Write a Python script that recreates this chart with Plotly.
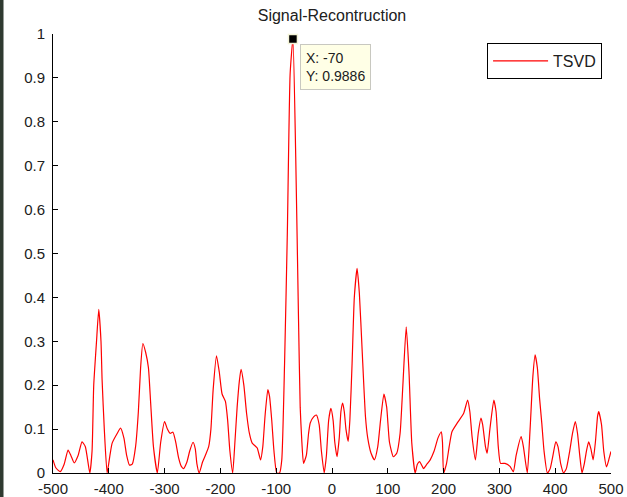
import plotly.graph_objects as go

# ---- data ----
x_vals = [-500, -495, -487, -480, -473, -468, -462, -455, -448, -442, -434, -430, -427, -422, -418,
          -414, -412, -408, -403, -398, -394, -385, -379, -373, -368, -363, -358, -352, -347, -343,
          -339, -334, -329, -325, -320, -313, -307, -300, -295, -290, -285, -280, -275, -270, -266,
          -260, -255, -249, -245, -242, -238, -232, -227, -221, -217, -213, -207, -202, -197, -191,
          -187, -183, -178, -174, -170, -166, -163, -158, -153, -148, -143, -138, -134, -128, -124,
          -120, -115, -112, -108, -104, -99, -94, -90, -85, -80, -75, -70, -65, -60, -57,
          -54, -51, -46, -42, -39, -33, -28, -23, -19, -14, -10, -6, -2, 2, 5,
          9, 13, 16, 19, 22, 25, 29, 32, 36, 40, 45, 49, 54, 60, 64,
          70, 76, 82, 87, 93, 98, 103, 110, 116, 122, 127, 133, 138, 143, 149,
          153, 157, 161, 164, 170, 176, 183, 190, 196, 198, 200, 205, 210, 215, 224,
          236, 243, 247, 251, 257, 262, 267, 270, 275, 278, 283, 290, 294, 298, 302,
          310, 319, 325, 330, 339, 343, 350, 355, 360, 364, 368, 372, 376, 380, 386,
          391, 396, 401, 405, 410, 415, 420, 426, 431, 436, 440, 444, 448, 452, 456,
          460, 464, 468, 472, 476, 478, 483, 487, 492, 496, 500]
y_vals = [0.030, 0.012, 0.003, 0.020, 0.052, 0.040, 0.023, 0.040, 0.071, 0.060, 0.000, 0.050, 0.200, 0.300, 0.373,
          0.300, 0.212, 0.098, 0.000, 0.040, 0.068, 0.090, 0.102, 0.080, 0.040, 0.018, 0.020, 0.060, 0.140, 0.240,
          0.295, 0.275, 0.240, 0.160, 0.060, 0.000, 0.070, 0.117, 0.100, 0.090, 0.093, 0.070, 0.035, 0.015, 0.010,
          0.025, 0.050, 0.070, 0.055, 0.020, 0.000, 0.025, 0.040, 0.060, 0.100, 0.190, 0.267, 0.230, 0.180, 0.163,
          0.120, 0.050, 0.000, 0.070, 0.150, 0.210, 0.236, 0.200, 0.135, 0.090, 0.068, 0.062, 0.057, 0.030, 0.060,
          0.130, 0.190, 0.175, 0.120, 0.050, 0.000, 0.000, 0.030, 0.250, 0.550, 0.910, 0.9886, 0.720, 0.350, 0.150,
          0.070, 0.022, 0.040, 0.090, 0.114, 0.128, 0.132, 0.110, 0.050, 0.000, 0.040, 0.120, 0.147, 0.120, 0.070,
          0.037, 0.080, 0.140, 0.159, 0.140, 0.100, 0.072, 0.120, 0.250, 0.400, 0.466, 0.410, 0.280, 0.128, 0.080,
          0.045, 0.030, 0.060, 0.120, 0.180, 0.150, 0.070, 0.037, 0.045, 0.090, 0.200, 0.333, 0.230, 0.068, 0.000,
          0.020, 0.026, 0.017, 0.010, 0.020, 0.030, 0.050, 0.080, 0.094, 0.070, 0.000, 0.020, 0.060, 0.094, 0.113,
          0.136, 0.166, 0.140, 0.083, 0.030, 0.090, 0.125, 0.110, 0.060, 0.045, 0.100, 0.166, 0.140, 0.060, 0.022,
          0.022, 0.015, 0.003, 0.040, 0.083, 0.060, 0.000, 0.100, 0.220, 0.269, 0.240, 0.170, 0.113, 0.050, 0.000,
          0.010, 0.040, 0.071, 0.060, 0.020, 0.000, 0.010, 0.050, 0.090, 0.117, 0.090, 0.040, 0.000, 0.020, 0.050,
          0.071, 0.055, 0.030, 0.070, 0.130, 0.140, 0.110, 0.050, 0.014, 0.030, 0.049]

x_ticks = [-500, -400, -300, -200, -100, 0, 100, 200, 300, 400, 500]
x_tick_labels = ["-500", "-400", "-300", "-200", "-100", "0", "100", "200", "300", "400", "500"]
y_ticks = [0, 0.1, 0.2, 0.3, 0.4, 0.5, 0.6, 0.7, 0.8, 0.9, 1]
y_tick_labels = ["0", "0.1", "0.2", "0.3", "0.4", "0.5", "0.6", "0.7", "0.8", "0.9", "1"]

tip_x = [-70]
tip_y = [0.9886]

FONT = "Liberation Sans, Arial, sans-serif"

fig = go.Figure()
fig.add_trace(go.Scatter(
    x=x_vals, y=y_vals, mode="lines", name="TSVD",
    line=dict(color="#ff0000", width=1.2, shape="spline", smoothing=0.5),
    cliponaxis=True,
))
fig.add_trace(go.Scatter(
    x=tip_x, y=tip_y, mode="markers", showlegend=False,
    marker=dict(symbol="square", size=9, color="black",
                line=dict(color="#f4f4d8", width=1.5)),
    cliponaxis=False,
))

fig.add_annotation(
    x=tip_x[0], y=tip_y[0], xref="x", yref="y",
    text=f"X: {tip_x[0]}<br>Y: {tip_y[0]}",
    showarrow=False, xanchor="left", yanchor="top", align="left",
    xshift=7, yshift=-5,
    bgcolor="#ffffe6", bordercolor="#c8c8c0", borderwidth=1, borderpad=5,
    font=dict(family=FONT, size=14, color="#202020"),
)

# dark screenshot strip on the very left edge
fig.add_shape(type="rect", xref="paper", yref="paper",
              x0=-53 / 558, x1=-49.5 / 558, y0=-24 / 439, y1=1 + 34 / 439,
              line=dict(width=0), fillcolor="#2f3a30", layer="above")

fig.update_layout(
    width=627, height=497,
    margin=dict(l=53, r=16, t=34, b=24),
    paper_bgcolor="white", plot_bgcolor="white",
    font=dict(family=FONT, size=15, color="#202020"),
    title=dict(text="Signal-Recontruction", x=0.5, xref="paper", xanchor="center",
               y=1 - 15 / 497, yanchor="middle", font=dict(size=16, family=FONT, color="#202020")),
    showlegend=True,
    legend=dict(x=0.984, y=0.9795, xanchor="right", yanchor="top",
                bgcolor="white", bordercolor="black", borderwidth=1,
                font=dict(size=16, family=FONT, color="#202020"),
                itemwidth=55),
)
fig.update_xaxes(range=[-500, 500], tickvals=x_ticks, ticktext=x_tick_labels,
                 showline=True, linecolor="black", linewidth=1, mirror=False,
                 ticks="inside", ticklen=5, tickcolor="black",
                 showgrid=False, zeroline=False, automargin=False, ticklabelstandoff=2)
fig.update_yaxes(range=[0, 1], tickvals=y_ticks, ticktext=y_tick_labels,
                 showline=True, linecolor="black", linewidth=1, mirror=False,
                 ticks="inside", ticklen=5, tickcolor="black",
                 showgrid=False, zeroline=False, ticklabelstandoff=4, automargin=False)

fig.write_html("out.html")
